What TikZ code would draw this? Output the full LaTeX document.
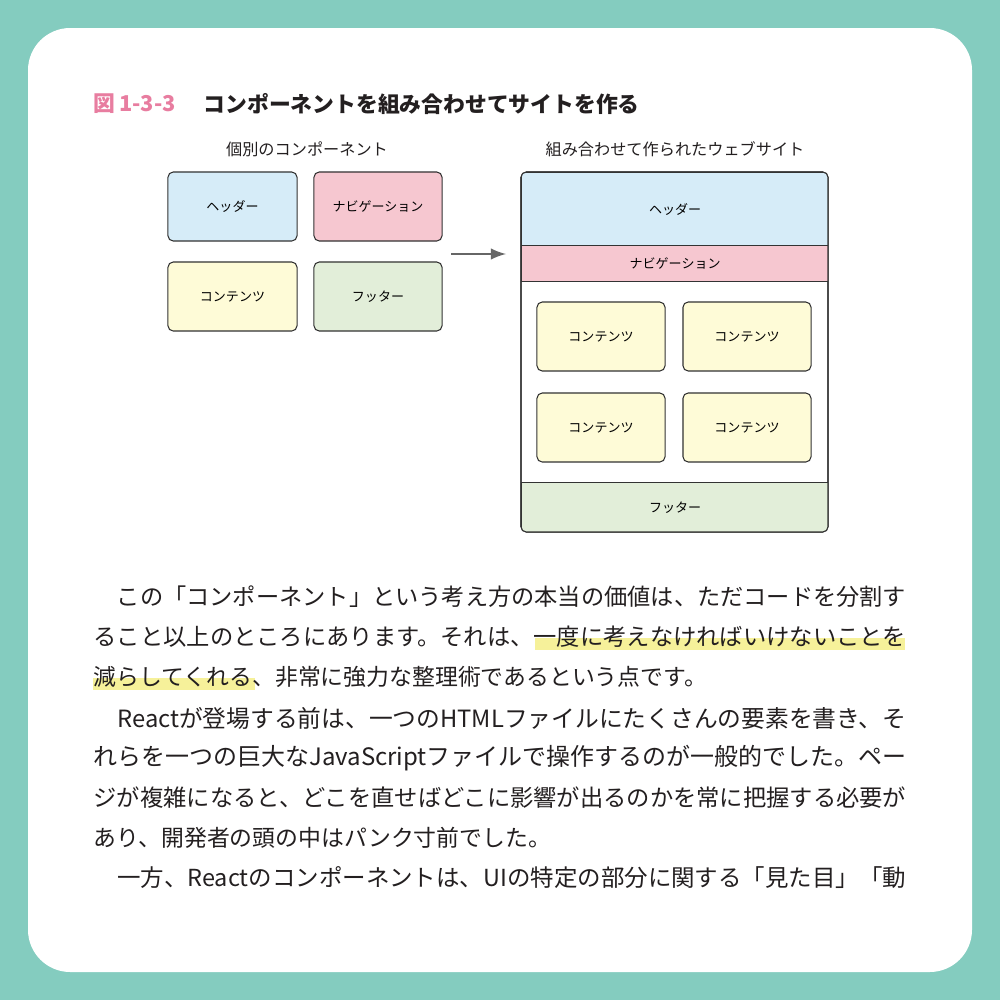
\documentclass[tikz,border=0pt]{standalone}
\usepackage{fontspec}
\setmainfont{Noto Sans CJK JP}
\usetikzlibrary{positioning}
\definecolor{frameteal}{HTML}{84CCBF}
\definecolor{figpink}{HTML}{E87DA0}
\definecolor{hdrblue}{HTML}{D6ECF8}
\definecolor{navpink}{HTML}{F6C7D0}
\definecolor{cntyellow}{HTML}{FEFBD7}
\definecolor{ftrgreen}{HTML}{E2EED9}
\definecolor{hilite}{HTML}{F6F19A}
\definecolor{bodygray}{HTML}{231F20}
\tikzstyle{part} = [rectangle, draw=black!80, line width=0.3pt, rounded corners=1.5pt, align=center, font=\fontsize{3.7}{4}\selectfont]
\tikzstyle{band} = [rectangle, draw=black!80, line width=0.3pt, align=center, font=\fontsize{3.7}{4}\selectfont]
\tikzstyle{caption} = [font=\fontsize{4.6}{5}\selectfont, text=bodygray]
\tikzstyle{body} = [anchor=west, inner sep=0, font=\fontsize{6.5}{7}\selectfont, text=bodygray]
\newcommand{\fitline}[1]{\resizebox{8.12cm}{!}{#1}}
\begin{document}
\begin{tikzpicture}[x=0.01cm, y=-0.01cm]
\useasboundingbox (0,0) rectangle (1000,1000);
\fill [frameteal] (0,0) rectangle (1000,1000);
\fill [white, rounded corners=12pt] (28,28) rectangle (972,972);

% title
\node [anchor=west, inner sep=0, text=figpink, font=\fontsize{6.2}{7}\selectfont\bfseries] at (93,104) (fignum) {図\,1-3-3};
\node [anchor=west, inner sep=0, text=bodygray, font=\fontsize{6.2}{7}\selectfont\bfseries] at (203,104) (title) {コンポーネントを組み合わせてサイトを作る};

% individual components
\node [caption] at (307,149) (leftcap) {個別のコンポーネント};
\node [part, fill=hdrblue, minimum width=1.29cm, minimum height=0.69cm] at (232.5,206.5) (hdr) {ヘッダー};
\node [part, fill=navpink, minimum width=1.28cm, minimum height=0.69cm] at (378,206.5) (nav) {ナビゲーション};
\node [part, fill=cntyellow, minimum width=1.29cm, minimum height=0.69cm] at (232.5,296.5) (cnt) {コンテンツ};
\node [part, fill=ftrgreen, minimum width=1.28cm, minimum height=0.69cm] at (378,296.5) (ftr) {フッター};

\coordinate (arrS) at (451,254);
\coordinate (arrE) at (506,254);
\draw [gray!80!black, line width=0.5pt, -latex] (arrS) to (arrE);

% assembled site
\node [caption] at (675,149) (rightcap) {組み合わせて作られたウェブサイト};
\draw [line width=0.3pt, draw=black!80, rounded corners=1.5pt, fill=white] (521,172) rectangle (828,532);
\begin{scope}
\clip [rounded corners=1.5pt] (521,172) rectangle (828,532);
\node [band, fill=hdrblue, minimum width=3.07cm, minimum height=0.73cm, anchor=north west] at (521,172) (shdr) {ヘッダー};
\node [band, fill=navpink, minimum width=3.07cm, minimum height=0.36cm, anchor=north west] at (521,245) (snav) {ナビゲーション};
\node [band, fill=ftrgreen, minimum width=3.07cm, minimum height=0.50cm, anchor=north west] at (521,482) (sftr) {フッター};
\end{scope}
\draw [line width=0.3pt, draw=black!80, rounded corners=1.5pt] (521,172) rectangle (828,532);
\foreach \cx/\cy/\n in {601/336.5/a, 747/336.5/b, 601/427.5/c, 747/427.5/d}
  \node [part, fill=cntyellow, minimum width=1.28cm, minimum height=0.69cm] at (\cx,\cy) (scnt\n) {コンテンツ};

% body text
\fill [hilite] (535,638) rectangle (905,650);
\fill [hilite] (93,678) rectangle (255,690);
\node [body] at (93,597) (l1) {\fitline{　この「コンポーネント」という考え方の本当の価値は、ただコードを分割す}};
\node [body] at (93,637) (l2) {\fitline{ること以上のところにあります。それは、一度に考えなければいけないことを}};
\node [body] at (93,677) (l3) {減らしてくれる、非常に強力な整理術であるという点です。};
\node [body] at (93,718) (l4) {\fitline{　Reactが登場する前は、一つのHTMLファイルにたくさんの要素を書き、そ}};
\node [body] at (93,758) (l5) {\fitline{れらを一つの巨大なJavaScriptファイルで操作するのが一般的でした。ペー}};
\node [body] at (93,798) (l6) {\fitline{ジが複雑になると、どこを直せばどこに影響が出るのかを常に把握する必要が}};
\node [body] at (93,838) (l7) {あり、開発者の頭の中はパンク寸前でした。};
\node [body] at (93,878) (l8) {\fitline{　一方、Reactのコンポーネントは、UIの特定の部分に関する「見た目」「動}};
\end{tikzpicture}
\end{document}
